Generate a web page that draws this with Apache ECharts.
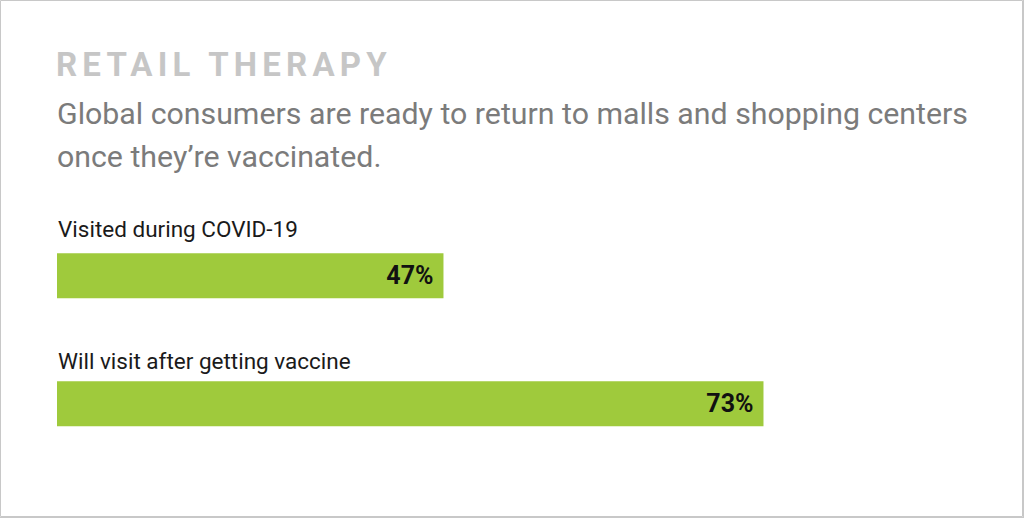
<!DOCTYPE html>
<html>
<head>
<meta charset="utf-8">
<script src="https://cdn.jsdelivr.net/npm/echarts@6/dist/echarts.min.js"></script>
<style>
html,body{margin:0;padding:0;background:#fff;}
#chart{width:1024px;height:518px;}
</style>
</head>
<body>
<div id="chart"></div>
<script>
const titleText = 'RETAIL THERAPY';
const subtitleText = 'Global consumers are ready to return to malls and shopping centers\nonce they\u2019re vaccinated.';
const categories = ['Visited during COVID-19', 'Will visit after getting vaccine'];
const values = [47, 73];

const chart = echarts.init(document.getElementById('chart'), null, {renderer: 'svg'});
chart.setOption({
  backgroundColor: '#ffffff',
  animation: false,
  title: [
    {
      text: titleText,
      left: 56, top: 44, padding: 0,
      textStyle: {fontFamily: 'Roboto', fontWeight: 'bold', fontSize: 33, color: '#c6c6c6', lineHeight: 40}
    },
    {
      text: subtitleText,
      left: 57, top: 92, padding: 0,
      textStyle: {fontFamily: 'Roboto', fontWeight: 'normal', fontSize: 30.3, color: '#7b7b7b', lineHeight: 43}
    }
  ],
  graphic: [
    {type: 'rect', silent: true, shape: {x: 0.5, y: 0.5, width: 1022, height: 516}, style: {fill: 'none', stroke: '#c8c8c8', lineWidth: 1}},
    {type: 'line', silent: true, shape: {x1: 1023.5, y1: 0, x2: 1023.5, y2: 518}, style: {stroke: '#c8c8c8', lineWidth: 1}},
    {type: 'line', silent: true, shape: {x1: 0, y1: 517.5, x2: 1024, y2: 517.5}, style: {stroke: '#c8c8c8', lineWidth: 1}}
  ],
  grid: {left: 57, right: 56.2, top: 211.8, bottom: 50.2, containLabel: false},
  xAxis: {
    type: 'value', min: 15.6, max: 89.6,
    show: false, splitLine: {show: false}
  },
  yAxis: {
    type: 'category', data: categories, inverse: true,
    axisLine: {show: false}, axisTick: {show: false}, splitLine: {show: false},
    axisLabel: {
      inside: true, margin: 1,
      formatter: function (v, i) { return (i === 0 ? '{a|' : '{b|') + v + '}'; },
      rich: {
        a: {fontFamily: 'Roboto', fontSize: 22.5, color: '#1a1a1a', padding: [0, 0, 93, 0]},
        b: {fontFamily: 'Roboto', fontSize: 22.5, color: '#1a1a1a', padding: [0, 0, 86, 0]}
      }
    }
  },
  series: [{
    type: 'bar',
    data: values,
    barWidth: 45,
    clip: true,
    itemStyle: {color: '#9fca3c'},
    label: {
      show: true, position: 'insideRight', distance: 10,
      formatter: '{c}%',
      fontFamily: 'Roboto', fontWeight: 'bold', fontSize: 25, color: '#111111'
    }
  }]
});

function spaceTitle() {
  document.querySelectorAll('#chart text').forEach(function (t) {
    if (t.textContent === titleText) {
      t.setAttribute('letter-spacing', '5.2px');
      t.style.letterSpacing = '5.2px';
    }
  });
}
spaceTitle();
chart.on('finished', spaceTitle);
</script>
</body>
</html>
